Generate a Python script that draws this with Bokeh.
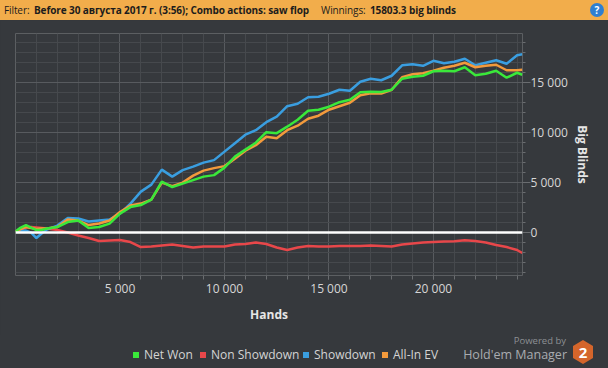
from bokeh.plotting import figure
from bokeh.layouts import column
from bokeh.models import Span, FixedTicker, Div, GlobalInlineStyleSheet
from bokeh.embed import file_html
from bokeh.resources import INLINE

# ---------------- data ----------------
hands = [0, 250, 500, 750, 1000, 1250, 1500,
         2000, 2500, 3000, 3500, 4000, 4500, 5000, 5500, 6000, 6500,
         7000, 7500, 8000, 8500, 9000, 9500, 10000, 10500, 11000, 11500,
         12000, 12500, 13000, 13500, 14000, 14500, 15000, 15500, 16000, 16500,
         17000, 17500, 18000, 18500, 19000, 19500, 20000, 20500, 21000, 21500,
         22000, 22500, 23000, 23500, 24000, 24250]

showdown = [100, 150, 200, 0, -550, -100, 300,
            700, 1450, 1400, 1100, 1200, 1300, 1900, 2900, 4100, 4800,
            6300, 5600, 6250, 6600, 7000, 7250, 8100, 8950, 9800, 10250,
            11050, 11600, 12650, 12900, 13550, 13600, 13900, 14300, 14200, 15100,
            15400, 15250, 15700, 16750, 16850, 16700, 17200, 16950, 17100, 17400,
            16750, 17000, 17250, 16900, 17750, 17850]

net_won = [100, 500, 750, 500, 250, 250, 400,
           550, 1050, 1200, 450, 550, 900, 1900, 2550, 2750, 3300,
           5100, 4550, 4900, 5250, 5600, 5750, 6500, 7600, 8300, 9000,
           10050, 9950, 10600, 11300, 12200, 12300, 12600, 13050, 13300, 14050,
           14100, 14080, 14300, 15400, 15600, 15700, 16150, 16200, 16150, 16550,
           15750, 15900, 16200, 15500, 16000, 15803.3]

allin_ev = [100, 350, 550, 450, 350, 400, 400,
            550, 1300, 1200, 750, 900, 1200, 2050, 2700, 2900, 3300,
            5000, 4650, 5000, 5700, 6200, 6450, 6650, 7400, 8200, 8750,
            9600, 9450, 10250, 10700, 11400, 11700, 12300, 12650, 13000, 13750,
            13950, 13920, 14300, 15550, 15850, 15950, 16200, 16500, 16700, 17000,
            16550, 16700, 16800, 16250, 16250, 16300]

non_showdown = [100, 300, 500, 550, 500, 450, 400,
                250, 0, -300, -550, -850, -800, -750, -950, -1450, -1400,
                -1300, -1200, -1350, -1500, -1400, -1400, -1400, -1200, -1150, -1000,
                -1150, -1500, -1750, -1500, -1350, -1400, -1400, -1350, -1350, -1350,
                -1300, -1350, -1400, -1200, -1100, -1000, -950, -900, -870, -780,
                -850, -1000, -1250, -1450, -1750, -2050]

series_names = ["Net Won", "Non Showdown", "Showdown", "All-In EV"]
x_ticks = [5000, 10000, 15000, 20000]
x_tick_labels = ["5 000", "10 000", "15 000", "20 000"]
y_ticks = [0, 5000, 10000, 15000]
y_tick_labels = ["0", "5 000", "10 000", "15 000"]
title_parts = ["Filter:", "Before 30 августа 2017 г. (3:56); Combo actions: saw flop",
               "Winnings:", "15803.3 big blinds"]
brand_texts = ["Powered by", "Hold'em Manager", "2"]

# ---------------- styling ----------------
BG = "#36393d"
GREEN = "#3ae83a"
RED = "#e8474a"
BLUE = "#3a9ee0"
ORANGE = "#f39a3c"
COLORS = [GREEN, RED, BLUE, ORANGE]
FONT = "Open Sans"

# header bar (HTML text)
title_x = [4, 34, 321, 370]
title_w = ["normal", "bold", "normal", "bold"]
spans = "".join(
    f'<span style="position:absolute;left:{x}px;top:0;font-weight:{w};white-space:nowrap">{t}</span>'
    for t, x, w in zip(title_parts, title_x, title_w))
qmark = ('<span style="position:absolute;left:590px;top:3px;width:14px;height:14px;'
         'border-radius:7px;background:#2f7fd0;color:#fff;font-weight:bold;font-size:10px;'
         'line-height:14px;text-align:center;letter-spacing:0">?</span>')
header = Div(text=f'<div style="position:relative;width:608px;height:20px;font-family:\'{FONT}\';'
                  f'font-size:10px;letter-spacing:-0.1px;line-height:20px;color:#1c1c1c">{spans}{qmark}</div>',
             width=608, height=20,
             styles={"background-color": "#f2ad4b", "margin": "0", "padding": "0"})

p = figure(width=608, height=315, output_backend="svg", toolbar_location=None,
           x_range=(0, 24260), y_range=(-4300, 19930),
           y_axis_location="right",
           min_border_left=15, min_border_right=86, min_border_top=13, min_border_bottom=60,
           background_fill_color=BG, border_fill_color=BG,
           outline_line_color="#5c5f62", outline_line_width=1)

# grids
for g, ticks, minor in ((p.xgrid, x_ticks, list(range(1000, 24001, 1000))),
                        (p.ygrid, y_ticks, list(range(-4000, 19001, 1000)))):
    g.ticker = FixedTicker(ticks=ticks, minor_ticks=minor)
    g.grid_line_color = "#585b5f"
    g.grid_line_width = 1
    g.minor_grid_line_color = "#46494d"
    g.minor_grid_line_width = 1

# axes
xa = p.xaxis[0]
xa.ticker = FixedTicker(ticks=x_ticks, minor_ticks=list(range(1000, 24001, 1000)))
xa.major_label_overrides = dict(zip(x_ticks, x_tick_labels))
xa.axis_label = "Hands"
ya = p.yaxis[0]
ya.ticker = FixedTicker(ticks=y_ticks, minor_ticks=list(range(-4000, 19001, 1000)))
ya.major_label_overrides = dict(zip(y_ticks, y_tick_labels))
ya.axis_label = "Big Blinds"
for ax in (xa, ya):
    ax.axis_line_color = None
    ax.major_tick_line_color = "#6a6d70"
    ax.minor_tick_line_color = "#6a6d70"
    ax.major_tick_in = 0
    ax.minor_tick_in = 0
    ax.major_label_text_color = "#d6d6d6"
    ax.major_label_text_font = FONT
    ax.major_label_text_font_size = "12px"
    ax.axis_label_text_color = "#e6e6e6"
    ax.axis_label_text_font = FONT
    ax.axis_label_text_font_size = "12px"
    ax.axis_label_text_font_style = "bold"
xa.major_tick_out = 4
xa.minor_tick_out = 4
xa.major_label_standoff = 0
xa.axis_label_standoff = 6
ya.major_tick_out = 8
ya.minor_tick_out = 3
ya.major_label_standoff = 0
ya.axis_label_standoff = 3

# zero line
p.add_layout(Span(location=0, dimension="width", line_color="white", line_width=2.5))

# series
p.line(hands, non_showdown, line_color=RED, line_width=2.5)
p.line(hands, showdown, line_color=BLUE, line_width=2.5)
p.line(hands, allin_ev, line_color=ORANGE, line_width=2.5)
p.line(hands, net_won, line_color=GREEN, line_width=2.5)

# footer: legend and branding (HTML text)
sw_x = [133, 200, 303, 382]
items = "".join(
    f'<span style="position:absolute;left:{x}px;top:17px;width:6px;height:6px;background:{c}"></span>'
    f'<span style="position:absolute;left:{x + 11}px;top:11px;line-height:18px;white-space:nowrap">{n}</span>'
    for n, c, x in zip(series_names, COLORS, sw_x))
brand = (f'<span style="position:absolute;right:{608 - 566}px;top:1px;font-size:9.5px;line-height:10px;'
         f'color:#8d9094;white-space:nowrap">{brand_texts[0]}</span>'
         f'<span style="position:absolute;right:{608 - 567}px;top:12px;font-size:12.5px;line-height:15px;'
         f'color:#a9acb0;white-space:nowrap">{brand_texts[1]}</span>'
         '<span style="position:absolute;left:573px;top:5px;width:20px;height:24px;background:#d4652b;'
         'clip-path:polygon(50% 0,100% 25%,100% 75%,50% 100%,0 75%,0 25%);color:#fff;font-weight:bold;'
         f'font-size:15px;line-height:24px;text-align:center">{brand_texts[2]}</span>')
footer = Div(text=f'<div style="position:relative;width:608px;height:33px;font-family:\'{FONT}\';'
                  f'font-size:12px;color:#d4d4d4">{items}{brand}</div>',
             width=608, height=33, styles={"margin": "0", "padding": "0"})

layout = column(header, p, footer, spacing=0,
                stylesheets=[GlobalInlineStyleSheet(css="html,body{margin:0;padding:0;background:#36393d;}")])

open("out.html", "w").write(file_html(layout, INLINE))
